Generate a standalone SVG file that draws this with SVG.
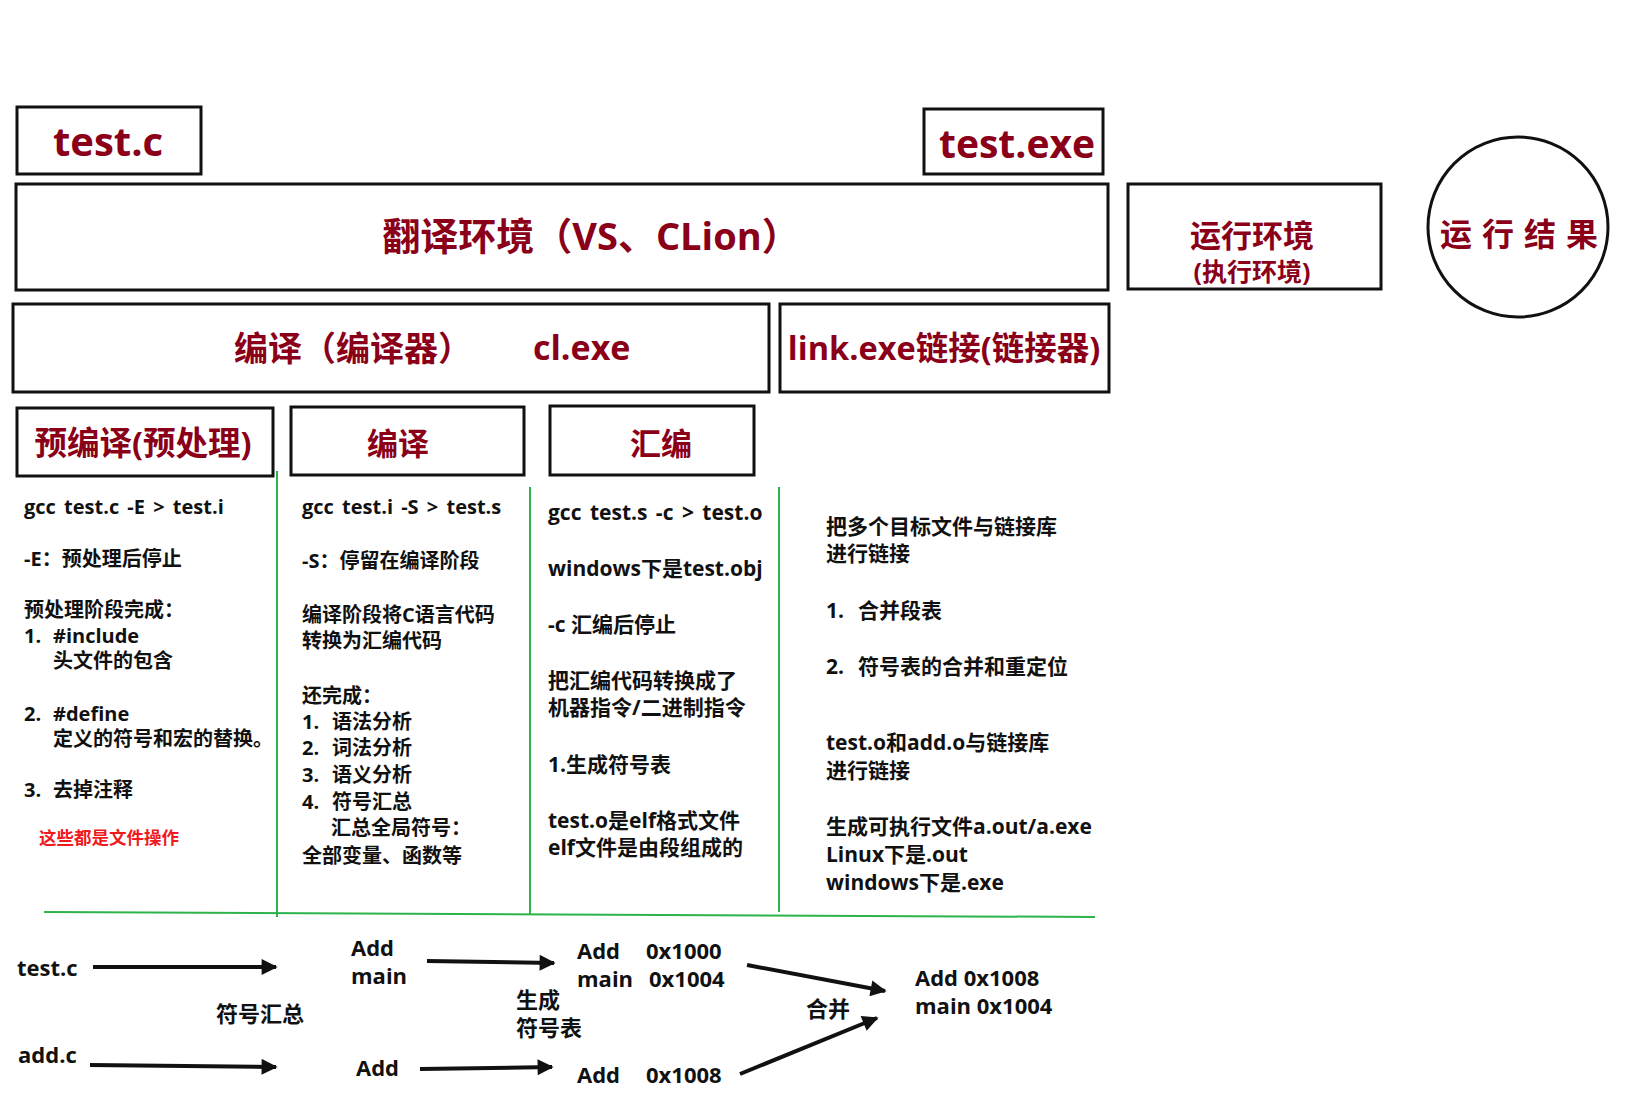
<svg xmlns="http://www.w3.org/2000/svg" width="1652" height="1102" viewBox="0 0 1652 1102">
<style>
.box{fill:#fff;stroke:#111;stroke-width:3}
.h{font-family:"Open Sans","Noto Sans CJK SC",sans-serif;font-weight:700;fill:#8A0019}
.t{font-family:"Open Sans","Noto Sans CJK SC",sans-serif;font-weight:700;fill:#111;font-size:20px}
.t2{font-family:"Open Sans","Noto Sans CJK SC",sans-serif;font-weight:700;fill:#111;font-size:21px}
.b{font-family:"Open Sans","Noto Sans CJK SC",sans-serif;font-weight:700;fill:#111;font-size:22px}
.ws{word-spacing:3px}
.g{stroke:#2DB34A;stroke-width:2;fill:none}
.arr{stroke:#111;stroke-width:4;fill:none;marker-end:url(#ah)}
</style>
<defs>
<marker id="ah" viewBox="0 0 10 10" refX="9" refY="5" markerWidth="5" markerHeight="4" orient="auto" markerUnits="strokeWidth">
<path d="M0,0 L10,5 L0,10 z" fill="#111"/>
</marker>
</defs>
<rect width="1652" height="1102" fill="#fff"/>

<g id="node-testc"><rect class="box" x="17" y="107" width="184" height="67"/><text class="h" x="108" y="156" font-size="40" text-anchor="middle">test.c</text></g>
<g id="node-testexe"><rect class="box" x="924" y="109" width="179" height="65"/><text class="h" x="1017" y="158" font-size="39" text-anchor="middle">test.exe</text></g>
<g id="node-transenv"><rect class="box" x="16" y="184" width="1092" height="106"/><text class="h" x="591" y="250" font-size="38" text-anchor="middle">翻译环境（VS、CLion）</text></g>
<g id="node-runenv"><rect class="box" x="1128" y="184" width="253" height="105"/><text class="h" x="1252" y="247" font-size="31" text-anchor="middle">运行环境</text><text class="h" x="1252" y="281" font-size="25" text-anchor="middle">(执行环境)</text></g>
<g id="node-result"><circle cx="1518" cy="227" r="90" fill="#fff" stroke="#111" stroke-width="3"/><text class="h" x="1524" y="246" font-size="32" letter-spacing="10" text-anchor="middle">运行结果</text></g>
<g id="node-compiler"><rect class="box" x="13" y="304" width="756" height="88"/><text class="h" x="234" y="361" font-size="34">编译（编译器）</text><text class="h" x="533" y="360" font-size="34">cl.exe</text></g>
<g id="node-linker"><rect class="box" x="780" y="304" width="329" height="88"/><text class="h" x="944" y="360" font-size="32.5" text-anchor="middle">link.exe链接(链接器)</text></g>
<g id="node-pre"><rect class="box" x="17" y="408" width="256" height="68"/><text class="h" x="143" y="455" font-size="32.5" text-anchor="middle">预编译(预处理)</text></g>
<g id="node-comp"><rect class="box" x="291" y="407" width="233" height="68"/><text class="h" x="398" y="455" font-size="31" text-anchor="middle">编译</text></g>
<g id="node-asm"><rect class="box" x="550" y="406" width="204" height="69"/><text class="h" x="661" y="455" font-size="31" text-anchor="middle">汇编</text></g>

<g id="dividers">
<line class="g" x1="277" y1="471" x2="277" y2="917"/>
<line class="g" x1="530" y1="487" x2="530" y2="914"/>
<line class="g" x1="779" y1="487" x2="779" y2="912"/>
<line class="g" x1="44" y1="912" x2="1095" y2="917"/>
</g>

<g id="col-pre">
<text class="t ws" x="24" y="514">gcc test.c -E &gt; test.i</text>
<text class="t" x="24" y="566">-E：预处理后停止</text>
<text class="t" x="24" y="617">预处理阶段完成：</text>
<text class="t" x="24" y="643">1.<tspan x="53">#include</tspan></text>
<text class="t" x="53" y="668">头文件的包含</text>
<text class="t" x="24" y="721">2.<tspan x="53">#define</tspan></text>
<text class="t" x="53" y="746" font-size="19.5">定义的符号和宏的替换。</text>
<text class="t" x="24" y="797">3.<tspan x="53">去掉注释</tspan></text>
<text x="39" y="844" font-family="Open Sans,Noto Sans CJK SC,sans-serif" font-weight="700" font-size="17.5" fill="#F0191E">这些都是文件操作</text>
</g>

<g id="col-comp">
<text class="t ws" x="302" y="514">gcc test.i -S &gt; test.s</text>
<text class="t" x="302" y="568">-S：停留在编译阶段</text>
<text class="t" x="302" y="622">编译阶段将C语言代码</text>
<text class="t" x="302" y="648">转换为汇编代码</text>
<text class="t" x="302" y="703">还完成：</text>
<text class="t" x="302" y="729">1.<tspan x="332">语法分析</tspan></text>
<text class="t" x="302" y="755">2.<tspan x="332">词法分析</tspan></text>
<text class="t" x="302" y="782">3.<tspan x="332">语义分析</tspan></text>
<text class="t" x="302" y="809">4.<tspan x="332">符号汇总</tspan></text>
<text class="t" x="331" y="835">汇总全局符号：</text>
<text class="t" x="302" y="863">全部变量、函数等</text>
</g>

<g id="col-asm">
<text class="t2 ws" x="548" y="520">gcc test.s -c &gt; test.o</text>
<text class="t2" x="548" y="576">windows下是test.obj</text>
<text class="t2" x="548" y="632">-c 汇编后停止</text>
<text class="t2" x="548" y="688">把汇编代码转换成了</text>
<text class="t2" x="548" y="715">机器指令/二进制指令</text>
<text class="t2" x="548" y="772">1.生成符号表</text>
<text class="t2" x="548" y="828">test.o是elf格式文件</text>
<text class="t2" x="548" y="855">elf文件是由段组成的</text>
</g>

<g id="col-link">
<text class="t2" x="826" y="534">把多个目标文件与链接库</text>
<text class="t2" x="826" y="561">进行链接</text>
<text class="t2" x="826" y="618">1.<tspan x="858">合并段表</tspan></text>
<text class="t2" x="826" y="674">2.<tspan x="858">符号表的合并和重定位</tspan></text>
<text class="t2" x="826" y="750">test.o和add.o与链接库</text>
<text class="t2" x="826" y="778">进行链接</text>
<text class="t2" x="826" y="834">生成可执行文件a.out/a.exe</text>
<text class="t2" x="826" y="862">Linux下是.out</text>
<text class="t2" x="826" y="890">windows下是.exe</text>
</g>

<g id="bottom-labels">
<text class="b" x="17" y="976">test.c</text>
<text class="b" x="18" y="1063">add.c</text>
<text class="b" x="351" y="956">Add</text>
<text class="b" x="351" y="984">main</text>
<text class="b" x="216" y="1022">符号汇总</text>
<text class="b" x="356" y="1076">Add</text>
<text class="b" x="516" y="1008">生成</text>
<text class="b" x="516" y="1036">符号表</text>
<text class="b" x="577" y="959">Add</text><text class="b" x="646" y="959">0x1000</text>
<text class="b" x="577" y="987">main</text><text class="b" x="649" y="987">0x1004</text>
<text class="b" x="577" y="1083">Add</text><text class="b" x="646" y="1083">0x1008</text>
<text class="b" x="806" y="1017">合并</text>
<text class="b" x="915" y="986">Add 0x1008</text>
<text class="b" x="915" y="1014">main 0x1004</text>
</g>

<g id="connectors">
<line class="arr" x1="93" y1="967" x2="276" y2="967"/>
<line class="arr" x1="90" y1="1065" x2="276" y2="1067"/>
<line class="arr" x1="427" y1="961" x2="554" y2="963"/>
<line class="arr" x1="420" y1="1069" x2="552" y2="1067"/>
<line class="arr" x1="747" y1="965" x2="885" y2="991"/>
<line class="arr" x1="740" y1="1074" x2="877" y2="1018"/>
</g>
</svg>
